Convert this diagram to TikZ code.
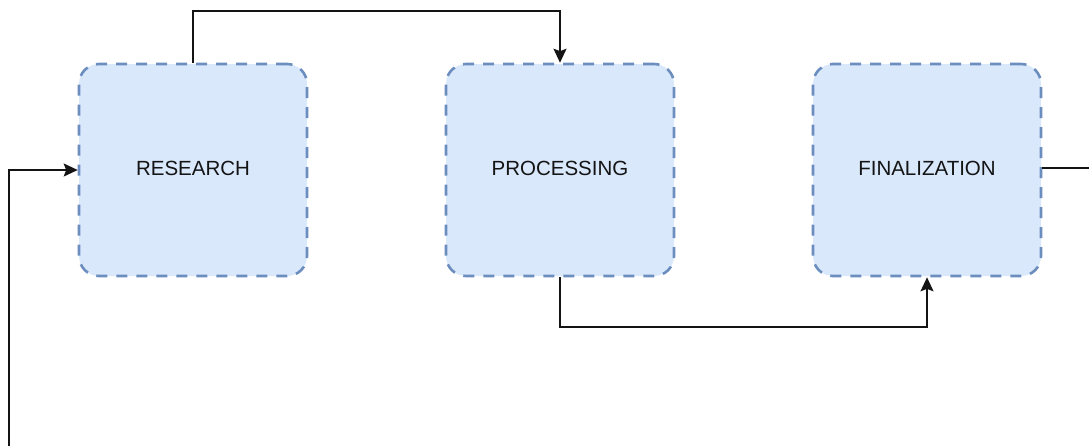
\documentclass[tikz,border=0pt]{standalone}
\usepackage{fontspec}
\setmainfont{Liberation Sans}
\usetikzlibrary{arrows.meta}
\definecolor{stagefill}{HTML}{DAE8FC}
\definecolor{stageline}{HTML}{6C8EBF}
\definecolor{inktext}{HTML}{141414}
\tikzset{
  stage/.style={draw=stageline, fill=stagefill, line width=2.6pt,
    dash pattern=on 11pt off 9pt, rounded corners=20pt,
    minimum width=228pt, minimum height=212pt, inner sep=0pt,
    text depth=3pt, text=inktext, font=\fontsize{20.5pt}{24pt}\selectfont},
  link/.style={draw=black!92, line width=1.8pt},
  flow/.style={link, -{Stealth[length=14pt, width=13pt, inset=2.5pt]}}
}
\begin{document}
\begin{tikzpicture}[x=1pt, y=-1pt]
  \useasboundingbox (0,0) rectangle (1089,445);

  % process stages
  \node[stage] (res)  at (193,170) {RESEARCH};
  \node[stage] (proc) at (560,170) {PROCESSING};
  \node[stage] (fin)  at (927,170) {FINALIZATION};

  % loose ends of the feedback loop
  \coordinate (loopout) at (1092,168);
  \coordinate (loopin)  at (9,448);

  % connectors
  \draw[flow] (res.north) -- ++(0,-52) -| (proc.north);
  \draw[flow] (proc.south) -- ++(0,50) -| (fin.south);
  \draw[link] (fin.east |- loopout) -- (loopout);
  \draw[flow] (loopin) |- (res.west);
\end{tikzpicture}
\end{document}
